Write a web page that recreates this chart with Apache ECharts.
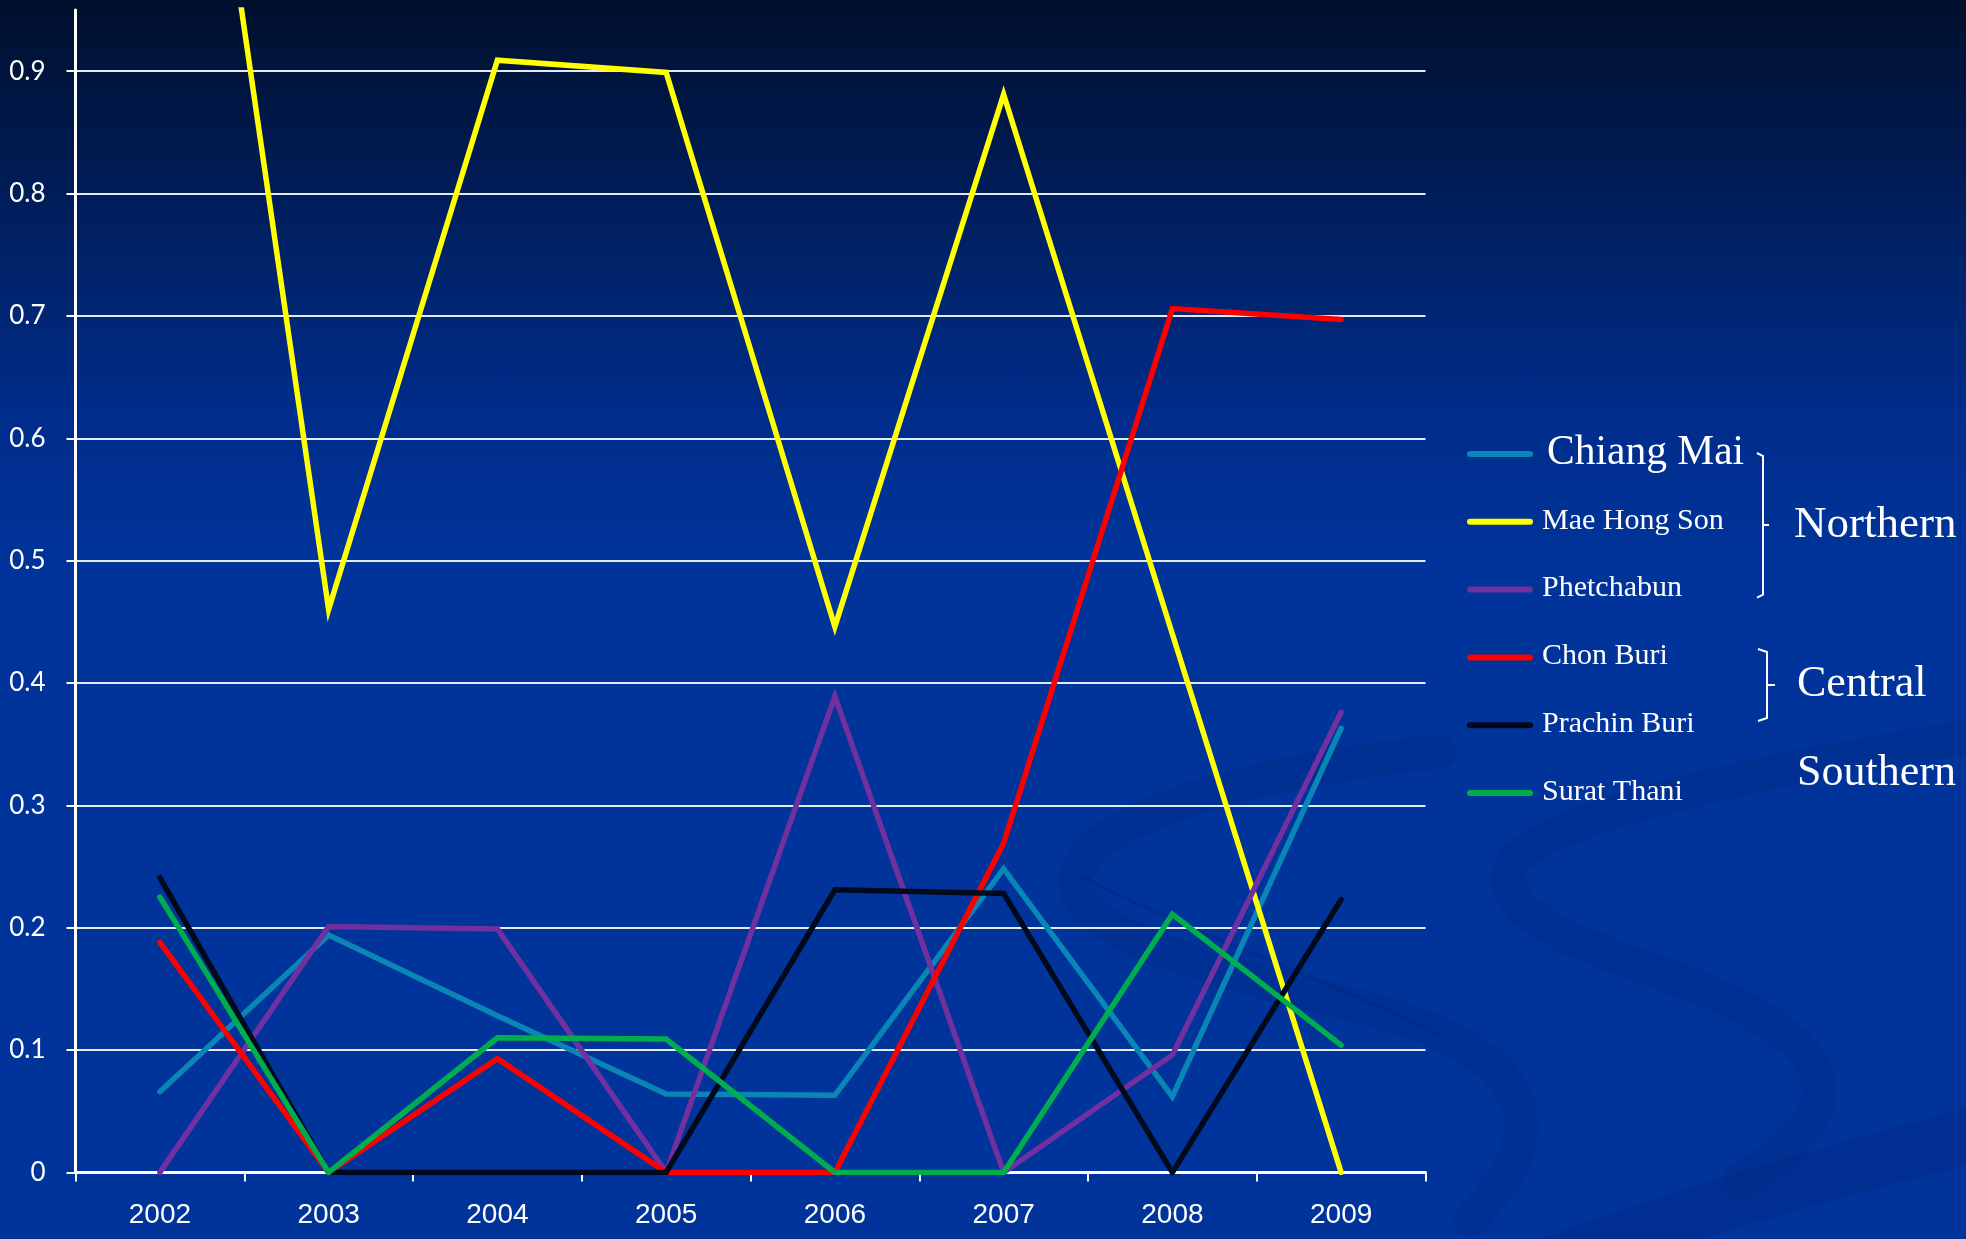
<!DOCTYPE html>
<html>
<head>
<meta charset="utf-8">
<script src="https://cdn.jsdelivr.net/npm/echarts@6/dist/echarts.min.js"></script>
<style>
  html, body { margin: 0; padding: 0; }
  body {
    width: 1966px; height: 1239px; overflow: hidden;
    background: linear-gradient(to bottom, #00102d 0px, #001a4f 150px, #00246d 280px, #002d8c 420px, #00349a 560px, #00349a 1239px);
  }
  #chart { width: 1966px; height: 1239px; }
</style>
</head>
<body>
<div id="chart"></div>
<script>
// Years on the category axis
const years = ['2002', '2003', '2004', '2005', '2006', '2007', '2008', '2009'];

// Ratios per province
const chiangMai   = [0.066, 0.194, 0.128, 0.064, 0.063, 0.248, 0.062, 0.363];
const maeHongSon  = [1.41, 0.46, 0.909, 0.899, 0.446, 0.881, 0.44, 0];
const phetchabun  = [0, 0.201, 0.199, 0, 0.389, 0, 0.096, 0.376];
const chonBuri    = [0.188, 0, 0.093, 0, 0, 0.269, 0.706, 0.697];
const prachinBuri = [0.241, 0, 0, 0, 0.231, 0.228, 0, 0.223];
const suratThani  = [0.225, 0, 0.110, 0.109, 0, 0, 0.211, 0.104];

// Y axis tick values
const yTicks = [0, 0.1, 0.2, 0.3, 0.4, 0.5, 0.6, 0.7, 0.8, 0.9];

const provinces = ['Chiang Mai', 'Mae Hong Son', 'Phetchabun', 'Chon Buri', 'Prachin Buri', 'Surat Thani'];
const provinceData = [chiangMai, maeHongSon, phetchabun, chonBuri, prachinBuri, suratThani];
const provinceColors = ['#0a86b6', '#ffff00', '#7030a0', '#ff0000', '#000a1c', '#00ad4e'];

// Region groups: label, legend rows they span, and label centre line
const regions = [
  { name: 'Northern', from: 0, to: 2, labelY: 525 },
  { name: 'Central',  from: 3, to: 4, labelY: 684 },
  { name: 'Southern', from: 5, to: 5, labelY: 773 }
];

const chart = echarts.init(document.getElementById('chart'), null, { renderer: 'canvas' });

// Legend layout
const legX0 = 1470, legX1 = 1530, legY0 = 454, legStep = 67.8;
const serif = '"Liberation Serif", "DejaVu Serif", serif';

// Turn a chain of cubic bezier segments into polyline points
function bezierPoints(start, segs, steps) {
  const pts = [start];
  let p0 = start;
  segs.forEach(function (s) {
    const c1 = s[0], c2 = s[1], p3 = s[2];
    for (let i = 1; i <= steps; i++) {
      const t = i / steps, u = 1 - t;
      pts.push([
        u * u * u * p0[0] + 3 * u * u * t * c1[0] + 3 * u * t * t * c2[0] + t * t * t * p3[0],
        u * u * u * p0[1] + 3 * u * u * t * c1[1] + 3 * u * t * t * c2[1] + t * t * t * p3[1]
      ]);
    }
    p0 = p3;
  });
  return pts;
}

const graphics = [];

// Decorative background swooshes
const swooshColor = 'rgba(0, 22, 95, 0.13)';
graphics.push({
  type: 'polyline', z: -5, silent: true,
  shape: { points: bezierPoints([1440, 752], [
    [[1260, 770], [1085, 815], [1076, 878]],
    [[1068, 940], [1240, 975], [1372, 1010]],
    [[1525, 1052], [1565, 1125], [1470, 1220]]
  ], 30) },
  style: { fill: null, stroke: swooshColor, lineWidth: 34, lineCap: 'round', lineJoin: 'round' }
});
graphics.push({
  type: 'polyline', z: -5, silent: true,
  shape: { points: bezierPoints([1980, 735], [
    [[1760, 770], [1520, 820], [1508, 872]],
    [[1498, 930], [1650, 965], [1710, 992]],
    [[1840, 1048], [1860, 1110], [1740, 1180]]
  ], 30) },
  style: { fill: null, stroke: swooshColor, lineWidth: 34, lineCap: 'round', lineJoin: 'round' }
});
graphics.push({
  type: 'polyline', z: -5, silent: true,
  shape: { points: bezierPoints([1080, 875], [
    [[1180, 930], [1330, 980], [1440, 1035]]
  ], 30) },
  style: { fill: null, stroke: 'rgba(0, 22, 95, 0.18)', lineWidth: 3 }
});
graphics.push({
  type: 'polygon', z: -5, silent: true,
  shape: { points: bezierPoints([1540, 1239], [
    [[1700, 1180], [1850, 1140], [1966, 1108]]
  ], 30).concat(bezierPoints([1966, 1165], [
    [[1850, 1195], [1760, 1220], [1700, 1239]]
  ], 30)) },
  style: { fill: 'rgba(0, 22, 95, 0.14)' }
});

provinces.forEach(function (name, i) {
  const y = legY0 + i * legStep;
  graphics.push({
    type: 'line',
    shape: { x1: legX0, y1: y, x2: legX1, y2: y },
    style: { stroke: provinceColors[i], lineWidth: 6, lineCap: 'round' }
  });
  const big = i === 0;
  graphics.push({
    type: 'text',
    x: big ? 1547 : 1542,
    y: y - 1,
    style: {
      text: name,
      fill: '#ffffff',
      font: (big ? 41.5 : 30) + 'px ' + serif,
      verticalAlign: 'middle',
      align: 'left'
    }
  });
});

regions.forEach(function (r, k) {
  const yTop = legY0 + r.from * legStep;
  const yBot = legY0 + r.to * legStep;
  const yMid = (yTop + yBot) / 2;
  if (r.to > r.from) {
    const vx = k === 0 ? 1763 : 1767;
    const hx = k === 0 ? 1757 : 1758;
    const top = k === 0 ? yTop : 650;
    const bot = k === 0 ? yBot + 7 : 720;
    const mid = k === 0 ? 525 : 685;
    graphics.push({
      type: 'polyline',
      shape: { points: [[hx, top - 1], [vx, top + 2], [vx, bot - 2], [hx, bot + 1]] },
      style: { stroke: '#ffffff', lineWidth: 2, fill: null }
    });
    graphics.push({
      type: 'line',
      shape: { x1: vx, y1: mid, x2: vx + (k === 0 ? 6 : 8), y2: mid },
      style: { stroke: '#ffffff', lineWidth: 2 }
    });
  }
  graphics.push({
    type: 'text',
    x: k === 0 ? 1794 : 1797,
    y: r.labelY,
    style: {
      text: r.name,
      fill: '#ffffff',
      font: (k === 0 ? 45 : 44) + 'px ' + serif,
      verticalAlign: 'middle',
      align: 'left'
    }
  });
});

const option = {
  backgroundColor: 'transparent',
  animation: false,
  grid: { left: 75.5, right: 540.5, top: 10, bottom: 66.6, containLabel: false },
  xAxis: {
    type: 'category',
    data: years,
    boundaryGap: true,
    axisLine: { lineStyle: { color: '#ffffff', width: 3 } },
    axisTick: { show: true, length: 9, lineStyle: { color: '#ffffff', width: 2 } },
    axisLabel: { color: '#ffffff', fontFamily: '"Liberation Sans", Arial, sans-serif', fontSize: 28, margin: 29 },
    splitLine: { show: false }
  },
  yAxis: {
    type: 'value',
    min: 0,
    max: 0.95,
    interval: 0.1,
    axisLine: { show: true, lineStyle: { color: '#ffffff', width: 3 } },
    axisTick: { show: true, length: 9, customValues: yTicks, lineStyle: { color: '#ffffff', width: 2 } },
    axisLabel: {
      color: '#ffffff', fontFamily: 'Lato, "Open Sans", sans-serif', fontSize: 26, margin: 30,
      customValues: yTicks,
      formatter: function (v) { return v === 0 ? '0' : v.toFixed(1); }
    },
    splitLine: { show: true, lineStyle: { color: '#e4e9f2', width: 2 } }
  },
  series: provinces.map(function (name, i) {
    return {
      name: name,
      type: 'line',
      data: provinceData[i],
      showSymbol: false,
      symbol: 'none',
      clip: true,
      lineStyle: { color: provinceColors[i], width: 5.5, cap: 'round', join: 'miter' },
      itemStyle: { color: provinceColors[i] }
    };
  }),
  graphic: graphics
};

chart.setOption(option);
</script>
</body>
</html>
